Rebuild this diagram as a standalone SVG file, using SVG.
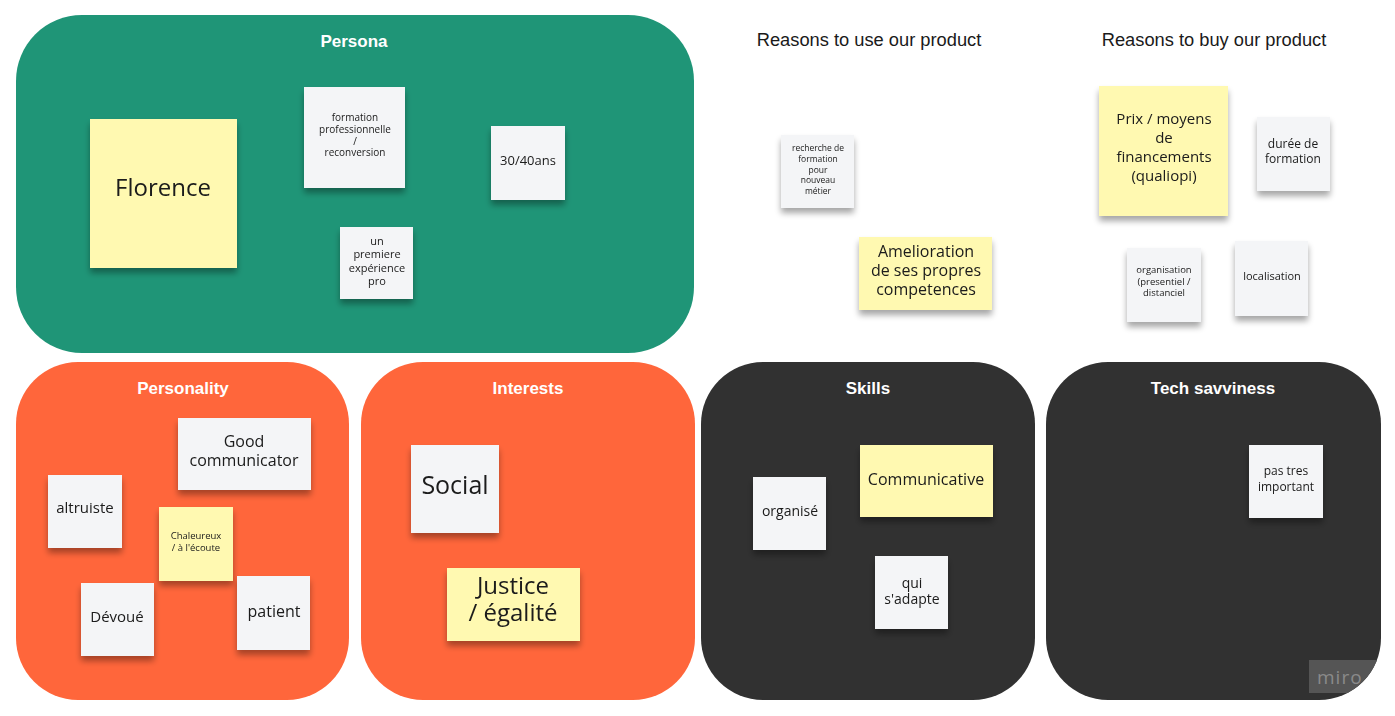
<svg xmlns="http://www.w3.org/2000/svg" width="1395" height="716" viewBox="0 0 1395 716">
<defs>
<filter id="sh" x="-20%" y="-20%" width="140%" height="150%">
<feGaussianBlur in="SourceAlpha" stdDeviation="3"/>
<feOffset dx="0" dy="5" result="b"/>
<feComponentTransfer><feFuncA type="linear" slope="0.35"/></feComponentTransfer>
<feMerge><feMergeNode/><feMergeNode in="SourceGraphic"/></feMerge>
</filter>
<clipPath id="techclip"><rect x="1046" y="362" width="335" height="338" rx="62"/></clipPath>
</defs>
<style>
.frame-title{font-family:"Liberation Sans",Arial,sans-serif;font-size:17px;font-weight:bold;fill:#ffffff;text-anchor:middle}
.col-title{font-family:"Liberation Sans",Arial,sans-serif;font-size:18.3px;fill:#1a1a1a;text-anchor:middle}
.w{fill:#f4f5f7}
.y{fill:#fff9b1}
.n{filter:url(#sh)}
.t{font-family:"Open Sans","Noto Sans",sans-serif;fill:#1a1a1a;text-anchor:middle}
</style>
<rect width="1395" height="716" fill="#ffffff"/>

<g id="frame-persona">
<rect x="16" y="15" width="678" height="338" rx="66" fill="#1f9577"/>
<text class="frame-title" x="354" y="47">Persona</text>
</g>
<g id="frame-personality">
<rect x="16" y="362" width="333" height="338" rx="62" fill="#ff663b"/>
<text class="frame-title" x="183" y="394">Personality</text>
</g>
<g id="frame-interests">
<rect x="361" y="362" width="334" height="338" rx="62" fill="#ff663b"/>
<text class="frame-title" x="528" y="394">Interests</text>
</g>
<g id="frame-skills">
<rect x="701" y="362" width="334" height="338" rx="62" fill="#313131"/>
<text class="frame-title" x="868" y="394">Skills</text>
</g>
<g id="frame-tech">
<rect x="1046" y="362" width="335" height="338" rx="62" fill="#313131"/>
<text class="frame-title" x="1213" y="394">Tech savviness</text>
</g>
<g id="title-use"><text class="col-title" x="869" y="46">Reasons to use our product</text></g>
<g id="title-buy"><text class="col-title" x="1214" y="46">Reasons to buy our product</text></g>

<g id="note-florence" class="n"><rect class="y" x="90" y="119" width="147" height="149"/>
<text class="t" x="163" y="196" font-size="24">Florence</text></g>

<g id="note-formation" class="n"><rect class="w" x="304" y="87" width="101" height="101"/>
<text class="t" font-size="10"><tspan x="355" y="121">formation</tspan><tspan x="355" y="133">professionnelle</tspan><tspan x="355" y="145">/</tspan><tspan x="355" y="156">reconversion</tspan></text></g>

<g id="note-age" class="n"><rect class="w" x="491" y="126" width="74" height="74"/>
<text class="t" x="528" y="165" font-size="13">30/40ans</text></g>

<g id="note-experience" class="n"><rect class="w" x="340" y="227" width="73" height="72"/>
<text class="t" font-size="11"><tspan x="377" y="245">un</tspan><tspan x="377" y="258">premiere</tspan><tspan x="377" y="272">expérience</tspan><tspan x="377" y="285">pro</tspan></text></g>

<g id="note-recherche" class="n"><rect class="w" x="781" y="135" width="73" height="73"/>
<text class="t" font-size="8.5"><tspan x="818" y="151">recherche de</tspan><tspan x="818" y="162">formation</tspan><tspan x="818" y="173">pour</tspan><tspan x="818" y="183">nouveau</tspan><tspan x="818" y="194">métier</tspan></text></g>

<g id="note-amelioration" class="n"><rect class="y" x="859" y="237" width="133" height="73"/>
<text class="t" font-size="16"><tspan x="926" y="257">Amelioration</tspan><tspan x="926" y="276">de ses propres</tspan><tspan x="926" y="295">competences</tspan></text></g>

<g id="note-prix" class="n"><rect class="y" x="1099" y="86" width="129" height="130"/>
<text class="t" font-size="15"><tspan x="1164" y="124">Prix / moyens</tspan><tspan x="1164" y="143">de</tspan><tspan x="1164" y="162">financements</tspan><tspan x="1164" y="181">(qualiopi)</tspan></text></g>

<g id="note-duree" class="n"><rect class="w" x="1257" y="117" width="73" height="74"/>
<text class="t" font-size="12"><tspan x="1293" y="148">durée de</tspan><tspan x="1293" y="163">formation</tspan></text></g>

<g id="note-organisation" class="n"><rect class="w" x="1127" y="248" width="74" height="74"/>
<text class="t" font-size="9.5"><tspan x="1164" y="273">organisation</tspan><tspan x="1164" y="285">(presentiel /</tspan><tspan x="1164" y="296">distanciel</tspan></text></g>

<g id="note-localisation" class="n"><rect class="w" x="1235" y="241" width="73" height="75"/>
<text class="t" x="1272" y="280" font-size="11">localisation</text></g>

<g id="note-good" class="n"><rect class="w" x="178" y="418" width="133" height="72"/>
<text class="t" font-size="16"><tspan x="244" y="447">Good</tspan><tspan x="244" y="466">communicator</tspan></text></g>

<g id="note-altruiste" class="n"><rect class="w" x="48" y="475" width="74" height="73"/>
<text class="t" x="85" y="513" font-size="15">altruiste</text></g>

<g id="note-chaleureux" class="n"><rect class="y" x="159" y="507" width="74" height="74"/>
<text class="t" font-size="9.5"><tspan x="196" y="539">Chaleureux</tspan><tspan x="196" y="551">/ à l'écoute</tspan></text></g>

<g id="note-devoue" class="n"><rect class="w" x="81" y="583" width="73" height="73"/>
<text class="t" x="117" y="622" font-size="15">Dévoué</text></g>

<g id="note-patient" class="n"><rect class="w" x="237" y="576" width="73" height="74"/>
<text class="t" x="274" y="617" font-size="16">patient</text></g>

<g id="note-social" class="n"><rect class="w" x="411" y="445" width="88" height="88"/>
<text class="t" x="455" y="494" font-size="25">Social</text></g>

<g id="note-justice" class="n"><rect class="y" x="447" y="568" width="133" height="73"/>
<text class="t" font-size="24"><tspan x="513" y="594">Justice</tspan><tspan x="513" y="621">/ égalité</tspan></text></g>

<g id="note-organise" class="n"><rect class="w" x="753" y="477" width="73" height="73"/>
<text class="t" x="790" y="516" font-size="14">organisé</text></g>

<g id="note-communicative" class="n"><rect class="y" x="860" y="445" width="133" height="72"/>
<text class="t" x="926" y="485" font-size="16">Communicative</text></g>

<g id="note-adapte" class="n"><rect class="w" x="875" y="556" width="73" height="73"/>
<text class="t" font-size="14"><tspan x="912" y="588">qui</tspan><tspan x="912" y="604">s'adapte</tspan></text></g>

<g id="note-pastres" class="n"><rect class="w" x="1249" y="445" width="74" height="73"/>
<text class="t" font-size="12"><tspan x="1286" y="475">pas tres</tspan><tspan x="1286" y="491">important</tspan></text></g>

<g id="watermark" clip-path="url(#techclip)">
<rect x="1309" y="660" width="80" height="33" fill="#555555"/>
<text x="1317" y="684" font-family="Open Sans,sans-serif" font-size="19" fill="#8a8a8a" letter-spacing="1">miro</text>
</g>
<g id="connectors"></g>
</svg>
